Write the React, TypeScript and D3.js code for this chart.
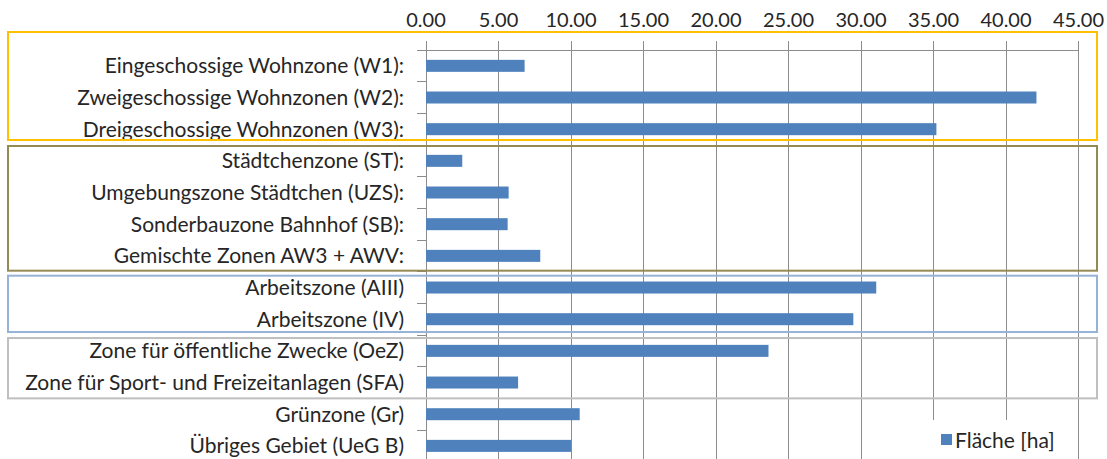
import React from "react";
import * as d3 from "d3";

const categories = [
  "Eingeschossige Wohnzone (W1):",
  "Zweigeschossige Wohnzonen (W2):",
  "Dreigeschossige Wohnzonen (W3):",
  "Städtchenzone (ST):",
  "Umgebungszone Städtchen (UZS):",
  "Sonderbauzone Bahnhof (SB):",
  "Gemischte Zonen AW3 + AWV:",
  "Arbeitszone (AIII)",
  "Arbeitszone (IV)",
  "Zone für öffentliche Zwecke (OeZ)",
  "Zone für Sport- und Freizeitanlagen (SFA)",
  "Grünzone (Gr)",
  "Übriges Gebiet (UeG B)",
];

const flaeche = [6.8, 42.1, 35.2, 2.5, 5.7, 5.63, 7.88, 31.05, 29.47, 23.62, 6.35, 10.6, 10.0];

const xTicks = [0, 5, 10, 15, 20, 25, 30, 35, 40, 45];

const seriesName = "Fläche [ha]";

// groups of categories framed by coloured boxes: [first index, last index]
const groupFirst = [0, 3, 7, 9];
const groupLast = [2, 6, 8, 10];
const groupColors = ["#FFC000", "#948A54", "#95B3D7", "#BFBFBF"];

const W = 1107;
const H = 459;
const FONT = "Lato, 'Open Sans', sans-serif";
const TEXT = "#262626";
const BAR = "#4F81BD";
const GRID = "#8C8C8C";

export default function App() {
  const x = d3.scaleLinear().domain([0, 45]).range([426, 1078.5]);
  const step = 31.67;
  const y = d3
    .scaleBand<string>()
    .domain(categories)
    .range([50, 50 + step * categories.length])
    .paddingInner(0)
    .paddingOuter(0);
  const bw = y.bandwidth();
  const barH = 12;

  // box insets (top, bottom) per group, in px
  const insetTop = [null, 1, 4, 3];
  const insetBottom = [5, 1, 3, 0];

  return (
    <svg
      width={W}
      height={H}
      style={{ position: "absolute", left: 0, top: 0, background: "#fff" }}
      fontFamily={FONT}
    >
      <rect x={0} y={0} width={W} height={H} fill="#fff" />
      {/* grid lines + top ticks */}
      {xTicks.map((t) => (
        <line
          key={"g" + t}
          x1={x(t)}
          x2={x(t)}
          y1={41}
          y2={H}
          stroke={GRID}
          strokeWidth={1}
          shapeRendering="crispEdges"
        />
      ))}
      {/* top axis line */}
      <line x1={417} x2={x(45)} y1={50} y2={50} stroke={GRID} strokeWidth={1} shapeRendering="crispEdges" />
      {/* category ticks */}
      {categories.map((c, i) => (
        <line
          key={"t" + i}
          x1={417}
          x2={x(0)}
          y1={(y(c) as number) + bw}
          y2={(y(c) as number) + bw}
          stroke={GRID}
          strokeWidth={1}
          shapeRendering="crispEdges"
        />
      ))}
      {/* tick labels */}
      {xTicks.map((t) => (
        <text key={"l" + t} x={x(t)} y={26.5} textAnchor="middle" fontSize={20} fill={TEXT}>
          {t.toFixed(2)}
        </text>
      ))}
      {/* bars */}
      {categories.map((c, i) => (
        <rect
          key={"b" + i}
          x={x(0)}
          y={(y(c) as number) + bw / 2 - barH / 2}
          width={x(flaeche[i]) - x(0)}
          height={barH}
          fill={BAR}
        />
      ))}
      {/* category labels */}
      {categories.map((c, i) => (
        <text
          key={"c" + i}
          x={404}
          y={(y(c) as number) + bw / 2}
          dy="0.36em"
          textAnchor="end"
          fontSize={21}
          fill={TEXT}
        >
          {c}
        </text>
      ))}
      {/* group boxes */}
      {groupFirst.map((f, gi) => {
        const top = insetTop[gi] === null ? 32 : (y(categories[f]) as number) + (insetTop[gi] as number);
        const bottom = (y(categories[groupLast[gi]]) as number) + bw - insetBottom[gi];
        return (
          <rect
            key={"box" + gi}
            x={8}
            y={top}
            width={1097 - 8}
            height={bottom - top}
            fill="none"
            stroke={groupColors[gi]}
            strokeWidth={2}
          />
        );
      })}
      {/* legend */}
      <rect x={885} y={420} width={187} height={45} fill="#fff" />
      <rect x={941} y={434} width={11} height={11} fill={BAR} />
      <text x={955} y={448} fontSize={21} fill={TEXT}>
        {seriesName}
      </text>
    </svg>
  );
}
